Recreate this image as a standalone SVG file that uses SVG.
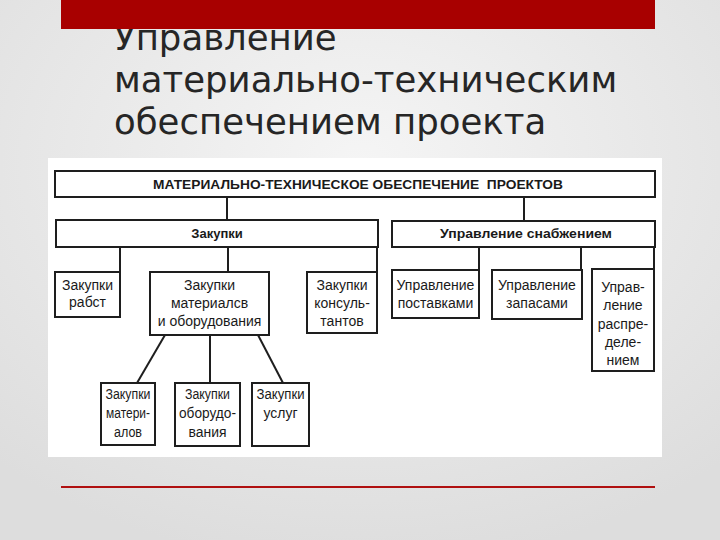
<svg xmlns="http://www.w3.org/2000/svg" width="720" height="540" viewBox="0 0 720 540">
<defs>
<radialGradient id="bg" cx="50%" cy="30%" r="75%">
<stop offset="0" stop-color="#f5f5f5"/>
<stop offset="1" stop-color="#dddddd"/>
</radialGradient>
<style>
.box{fill:#ffffff;stroke:#1e1e1e;stroke-width:2}
.ln{stroke:#1e1e1e;stroke-width:2;fill:none}
.t{font-family:"Liberation Sans",Arial,sans-serif;font-size:14px;fill:#1a1a1a;text-anchor:middle}
.s{font-family:"Liberation Sans",Arial,sans-serif;font-size:14px;fill:#1a1a1a;text-anchor:middle}
.b{font-family:"Liberation Sans",Arial,sans-serif;font-size:13px;font-weight:bold;fill:#1a1a1a;text-anchor:middle}
.title{font-family:"DejaVu Sans",sans-serif;font-size:35.5px;fill:#262626}
</style>
</defs>
<rect x="0" y="0" width="720" height="540" fill="url(#bg)"/>
<text class="title" x="114" y="50">Управление</text>
<text class="title" x="114" y="92">материально-техническим</text>
<text class="title" x="114" y="134">обеспечением проекта</text>
<rect x="61" y="0" width="594" height="29" fill="#a80000"/>
<rect x="61" y="486" width="594" height="2" fill="#b01010"/>
<rect x="48" y="158" width="614" height="299" fill="#ffffff"/>
<g id="connectors">
<line class="ln" x1="227" y1="197" x2="227" y2="220"/>
<line class="ln" x1="524" y1="197" x2="524" y2="221"/>
<line class="ln" x1="120" y1="247" x2="120" y2="272"/>
<line class="ln" x1="228" y1="247" x2="228" y2="272"/>
<line class="ln" x1="377" y1="247" x2="377" y2="272"/>
<line class="ln" x1="479" y1="247" x2="479" y2="270"/>
<line class="ln" x1="581" y1="247" x2="581" y2="270"/>
<line class="ln" x1="654" y1="247" x2="654" y2="269"/>
<line class="ln" x1="165" y1="335" x2="137" y2="383"/>
<line class="ln" x1="210" y1="335" x2="210" y2="383"/>
<line class="ln" x1="258" y1="335" x2="283" y2="383"/>
</g>
<g id="n-top">
<rect class="box" x="55" y="171" width="600" height="26"/>
<text class="b" x="358" y="189" textLength="410" lengthAdjust="spacingAndGlyphs" xml:space="preserve">МАТЕРИАЛЬНО-ТЕХНИЧЕСКОЕ ОБЕСПЕЧЕНИЕ  ПРОЕКТОВ</text>
</g>
<g id="n-zakupki">
<rect class="box" x="56" y="220" width="322" height="27"/>
<text class="b" x="217" y="238">Закупки</text>
</g>
<g id="n-snab">
<rect class="box" x="392" y="221" width="263" height="26"/>
<text class="b" x="526" y="238" textLength="172" lengthAdjust="spacingAndGlyphs">Управление снабжением</text>
</g>
<g id="n-rabot">
<rect class="box" x="55" y="272" width="65" height="45"/>
<text class="t" x="87.5" y="290">Закупки</text>
<text class="t" x="87.5" y="307">рабст</text>
</g>
<g id="n-mat-obor">
<rect class="box" x="150" y="272" width="119" height="63"/>
<text class="t" x="209.5" y="290">Закупки</text>
<text class="t" x="209.5" y="308">материалсв</text>
<text class="t" x="209.5" y="326">и оборудования</text>
</g>
<g id="n-konsult">
<rect class="box" x="307" y="272" width="70" height="61"/>
<text class="t" x="342" y="290">Закупки</text>
<text class="t" x="342" y="308">консуль-</text>
<text class="t" x="342" y="326">тантов</text>
</g>
<g id="n-postavki">
<rect class="box" x="392" y="270" width="87" height="48"/>
<text class="t" x="435.5" y="290">Управление</text>
<text class="t" x="435.5" y="308">поставками</text>
</g>
<g id="n-zapasy">
<rect class="box" x="492" y="270" width="90" height="49"/>
<text class="t" x="537" y="290">Управление</text>
<text class="t" x="537" y="308">запасами</text>
</g>
<g id="n-raspred">
<rect class="box" x="592" y="269" width="62" height="102"/>
<text class="t" x="623" y="292">Управ-</text>
<text class="t" x="623" y="310">ление</text>
<text class="t" x="623" y="329">распре-</text>
<text class="t" x="623" y="347">деле-</text>
<text class="t" x="623" y="365">нием</text>
</g>
<g id="n-materialy">
<rect class="box" x="101" y="383" width="54" height="62"/>
<text class="s" x="128" y="399" textLength="45" lengthAdjust="spacingAndGlyphs">Закупки</text>
<text class="s" x="128" y="418" textLength="44" lengthAdjust="spacingAndGlyphs">матери-</text>
<text class="s" x="128" y="437" textLength="28" lengthAdjust="spacingAndGlyphs">алов</text>
</g>
<g id="n-oborud">
<rect class="box" x="175" y="383" width="65" height="63"/>
<text class="s" x="207.5" y="399" textLength="45" lengthAdjust="spacingAndGlyphs">Закупки</text>
<text class="s" x="207.5" y="418" textLength="57" lengthAdjust="spacingAndGlyphs">оборудо-</text>
<text class="s" x="207.5" y="437" textLength="38" lengthAdjust="spacingAndGlyphs">вания</text>
</g>
<g id="n-uslug">
<rect class="box" x="252" y="383" width="57" height="63"/>
<text class="s" x="280.5" y="399" textLength="48" lengthAdjust="spacingAndGlyphs">Закупки</text>
<text class="s" x="280.5" y="418" textLength="34" lengthAdjust="spacingAndGlyphs">услуг</text>
</g>
</svg>
